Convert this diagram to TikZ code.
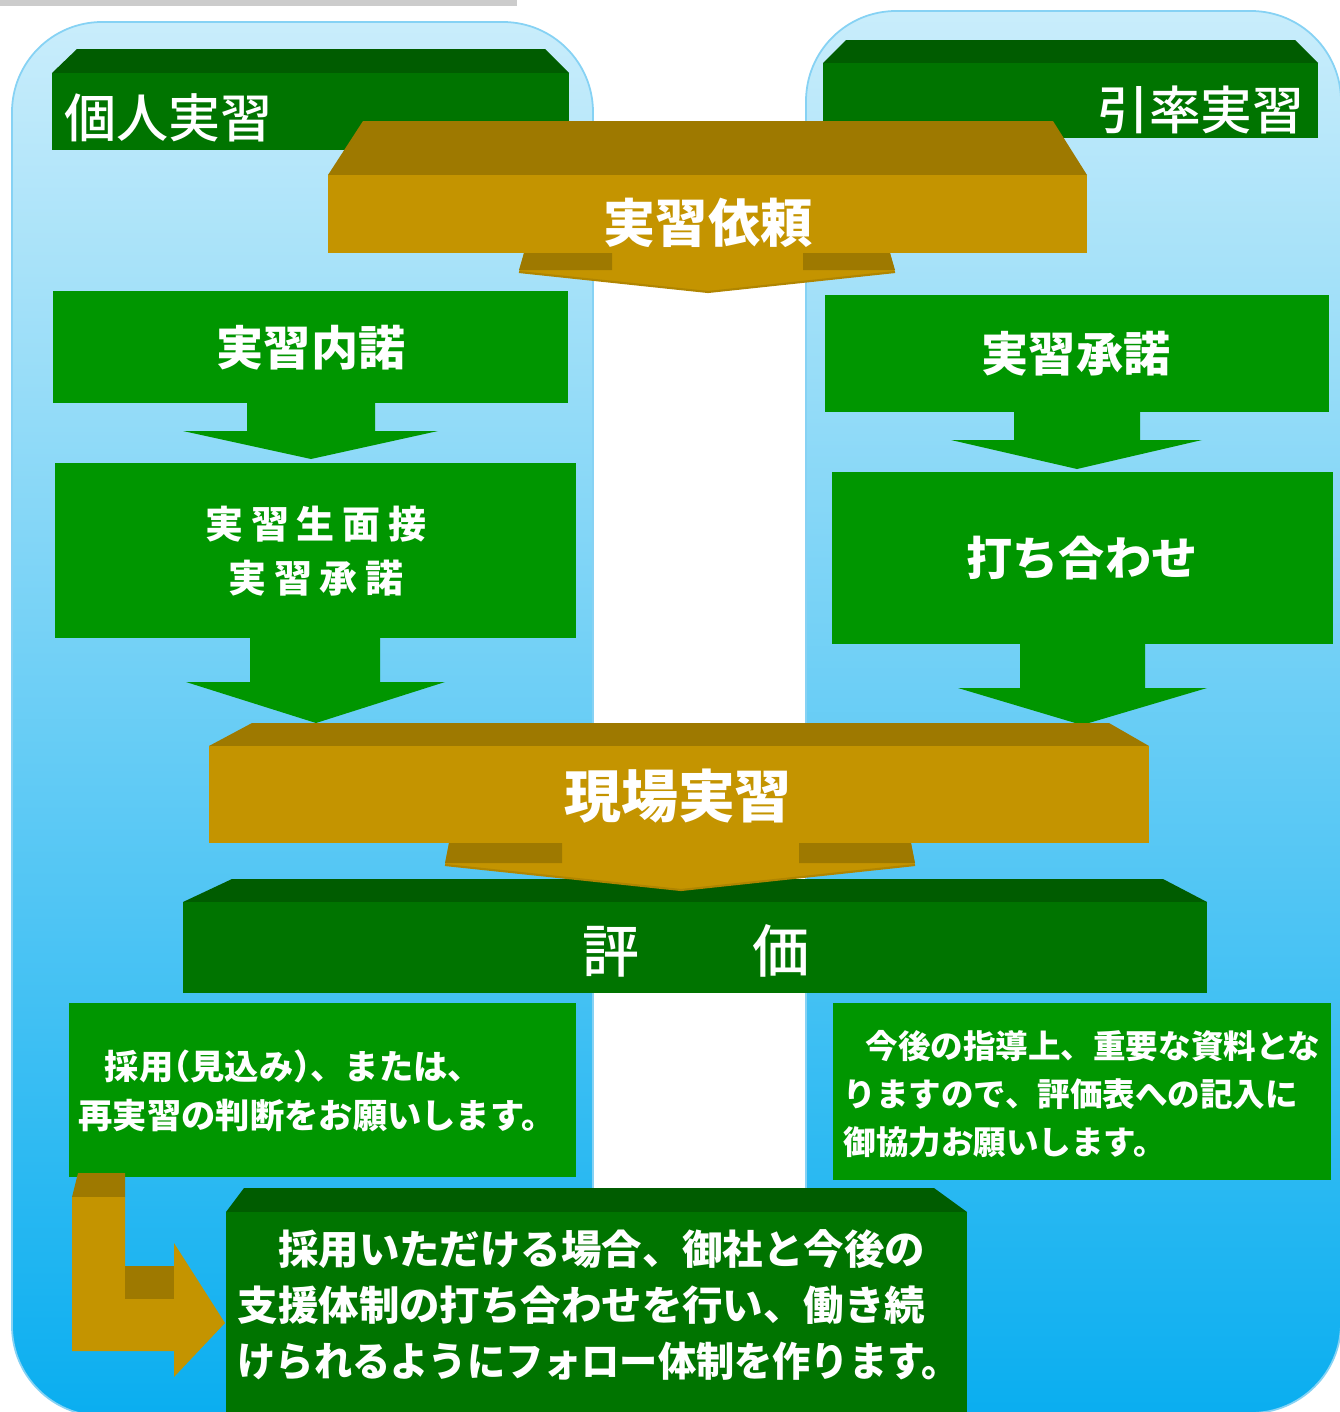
\documentclass[tikz,border=0pt]{standalone}
\usepackage{fontspec}
\setmainfont{Noto Sans CJK JP}
\newfontfamily\medfont{Noto Sans CJK JP Medium}
\definecolor{goldfront}{HTML}{C49400}
\definecolor{goldtop}{HTML}{9E7900}
\definecolor{goldline}{HTML}{B08500}
\definecolor{hdrfront}{HTML}{007400}
\definecolor{hdrtop}{HTML}{005C00}
\definecolor{boxgreen}{HTML}{009600}
\definecolor{panetop}{HTML}{C9EDFB}
\definecolor{panemid}{HTML}{9BD5F5}
\definecolor{panebot}{HTML}{0AAEF0}
\definecolor{paneline}{HTML}{86D2F4}
\newcommand{\fsz}[2]{\fontsize{#1}{#2}\selectfont}
\newcommand{\halfw}[1]{{\addfontfeatures{RawFeature=+halt}#1}}
\begin{document}
\begin{tikzpicture}[x=0.01cm,y=0.01cm,
    lbl/.style={text=white,inner sep=0pt,font=\bfseries},
    pane/.style={top color=panetop,middle color=panemid,bottom color=panebot,rounded corners=0.9cm},
    paneedge/.style={draw=paneline,line width=0.5pt,rounded corners=0.9cm}]
    \useasboundingbox (0,-1412) rectangle (1340,0);
    \fill[white] (0,-1412) rectangle (1340,0);
    \fill[black!20] (0,0) rectangle (517,-6);
    \shade[pane] (12,-1416) -- (12,-22) -- (593,-22) -- (593,-1416) -- cycle;
    \draw[paneedge] (12,-1416) -- (12,-22) -- (593,-22) -- (593,-1416) -- cycle;
    \shade[pane] (806,-1413) -- (806,-11) -- (1341,-11) -- (1341,-1413) -- cycle;
    \draw[paneedge] (806,-1413) -- (806,-11) -- (1341,-11) -- (1341,-1413) -- cycle;

    \fill[hdrtop] (77,-49) -- (545,-49) -- (569,-73) -- (52,-73) -- cycle;
    \fill[hdrfront] (52,-73) rectangle (569,-150);
    \node[lbl,font=\medfont\fsz{14.8pt}{17pt},anchor=west] (kojin) at (64,-118) {個人実習};
    \fill[hdrtop] (846,-40) -- (1295,-40) -- (1318,-63) -- (823,-63) -- cycle;
    \fill[hdrfront] (823,-63) rectangle (1318,-138);
    \node[lbl,font=\medfont\fsz{14.7pt}{17pt},anchor=east] (insotsu) at (1305,-110) {引率実習};

    \fill[goldtop] (363,-121) -- (1053,-121) -- (1087,-175) -- (328,-175) -- cycle;
    \fill[goldfront] (328,-175) rectangle (1087,-253);
    \fill[goldfront] (524,-253) -- (890,-253) -- (895,-272) -- (708,-292) -- (519,-272) -- cycle;
    \fill[goldtop] (524,-253) -- (612,-253) -- (612,-270) -- (519,-270) -- cycle;
    \fill[goldtop] (803,-253) -- (890,-253) -- (895,-270) -- (803,-270) -- cycle;
    \draw[goldline,line width=0.6pt] (519,-272) -- (708,-292) -- (895,-272);
    \node[lbl,font=\bfseries\fsz{14.8pt}{17pt}] (irai) at (708,-223) {実習依頼};

    \fill[boxgreen] (53,-291) rectangle (568,-403);
    \node[lbl,font=\bfseries\fsz{13.4pt}{16pt}] (naidaku) at (311,-348) {実習内諾};
    \fill[boxgreen] (247,-402) -- (375,-402) -- (375,-431) -- (438,-431) -- (311,-459) -- (183,-431) -- (247,-431) -- cycle;
    \fill[boxgreen] (55,-463) rectangle (576,-638);
    \node[lbl,font=\bfseries\fsz{10.8pt}{15.4pt}\addfontfeatures{LetterSpace=21},align=center] (mensetsu) at (316,-551) {実習生面接\\実習承諾};
    \fill[boxgreen] (250,-637) -- (380,-637) -- (380,-682) -- (445,-682) -- (316,-723) -- (186,-682) -- (250,-682) -- cycle;

    \fill[boxgreen] (825,-295) rectangle (1329,-412);
    \node[lbl,font=\bfseries\fsz{13.4pt}{16pt}] (shodaku) at (1076,-354) {実習承諾};
    \fill[boxgreen] (1014,-411) -- (1140,-411) -- (1140,-440) -- (1202,-440) -- (1077,-469) -- (951,-440) -- (1014,-440) -- cycle;
    \fill[boxgreen] (832,-472) rectangle (1333,-644);
    \node[lbl,font=\bfseries\fsz{13.1pt}{16pt}] (uchiawase) at (1082,-558) {打ち合わせ};
    \fill[boxgreen] (1020,-643) -- (1145,-643) -- (1145,-688) -- (1207,-688) -- (1082,-725) -- (958,-688) -- (1020,-688) -- cycle;

    \fill[goldtop] (252,-723) -- (1109,-723) -- (1149,-746) -- (209,-746) -- cycle;
    \fill[goldfront] (209,-746) rectangle (1149,-843);
    \node[lbl,font=\bfseries\fsz{16.2pt}{19pt}] (genba) at (678,-796) {現場実習};

    \fill[hdrtop] (232,-879) -- (1163,-879) -- (1207,-902) -- (183,-902) -- cycle;
    \fill[hdrfront] (183,-902) rectangle (1207,-993);
    \node[lbl,font=\medfont\fsz{16.2pt}{19pt}] (hyoka) at (696,-951) {評　　価};

    \fill[goldfront] (449,-843) -- (911,-843) -- (915,-865) -- (681,-890) -- (445,-865) -- cycle;
    \fill[goldtop] (449,-843) -- (562,-843) -- (562,-863) -- (445,-863) -- cycle;
    \fill[goldtop] (799,-843) -- (911,-843) -- (915,-863) -- (799,-863) -- cycle;
    \draw[goldline,line width=0.6pt] (445,-865) -- (681,-890) -- (915,-865);

    \fill[boxgreen] (69,-1003) rectangle (576,-1177);
    \node[lbl,font=\bfseries\fsz{9.75pt}{13.9pt},align=left,anchor=west] (saiyo) at (78,-1091) {\hspace*{0.26cm}採用\halfw{（}見込み\halfw{）}、または、\\再実習の判断をお願いします。};
    \fill[boxgreen] (833,-1003) rectangle (1331,-1180);
    \node[lbl,font=\bfseries\fsz{9.25pt}{13.7pt},align=left,anchor=west] (shiryo) at (843,-1094) {\hspace*{0.22cm}今後の指導上、重要な資料とな\\りますので、評価表への記入に\\御協力お願いします。};

    \fill[hdrtop] (244,-1188) -- (934,-1188) -- (967,-1212) -- (226,-1212) -- cycle;
    \fill[hdrfront] (226,-1212) rectangle (967,-1415);
    \node[lbl,font=\bfseries\fsz{11.5pt}{15.9pt},align=left,anchor=west] (follow) at (237,-1305) {　採用いただける場合、御社と今後の\\支援体制の打ち合わせを行い、働き続\\\scalebox{0.945}[1]{けられるようにフォロー体制を作ります。}};

    \fill[goldtop] (78,-1173) -- (125,-1173) -- (125,-1197) -- (72,-1197) -- cycle;
    \fill[goldfront] (72,-1197) -- (125,-1197) -- (125,-1299) -- (174,-1299) -- (174,-1243) -- (225,-1323) -- (174,-1377) -- (174,-1351) -- (72,-1351) -- cycle;
    \fill[goldtop] (125,-1266) -- (174,-1266) -- (174,-1299) -- (125,-1299) -- cycle;
\end{tikzpicture}
\end{document}
